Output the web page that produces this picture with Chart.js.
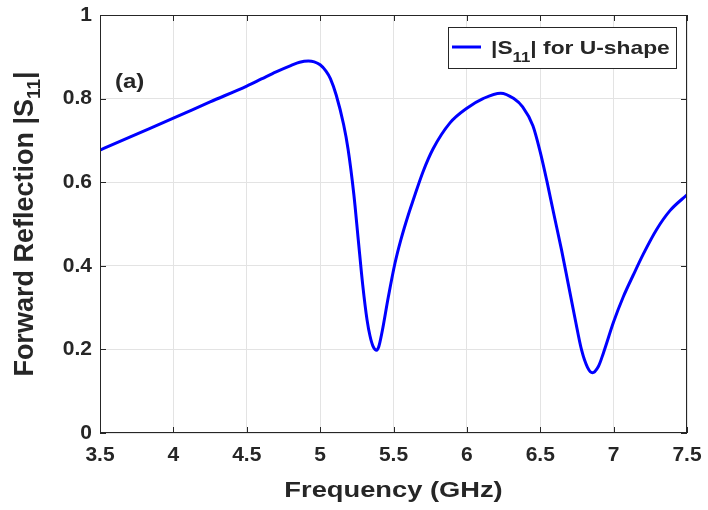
<!DOCTYPE html>
<html>
<head>
<meta charset="utf-8">
<script src="https://cdn.jsdelivr.net/npm/chart.js@4"></script>
<style>
  body { margin: 0; background: #fff; }
  #wrap { width: 708px; height: 510px; }
</style>
</head>
<body>
<div id="wrap"><canvas id="s11"></canvas></div>
<script>
// frequency in GHz and |S11|
const freq = [3.5, 3.75, 4.0, 4.25, 4.5, 4.6, 4.7, 4.8, 4.86, 4.92, 4.96, 5.0, 5.04, 5.07, 5.11, 5.16,
    5.19, 5.23, 5.26, 5.29, 5.32, 5.34, 5.36, 5.385, 5.4, 5.42, 5.465, 5.51, 5.55, 5.6, 5.635, 5.7,
    5.77, 5.885, 6.0, 6.11, 6.23, 6.32, 6.38, 6.45, 6.5, 6.545, 6.59, 6.645, 6.69, 6.737, 6.782,
    6.822, 6.855, 6.896, 6.93, 7.0, 7.066, 7.134, 7.202, 7.293, 7.384, 7.5]
const s11 = [0.677, 0.715, 0.753, 0.792, 0.830, 0.847, 0.864, 0.879, 0.887, 0.890, 0.888, 0.881, 0.866, 0.848, 0.808, 0.738,
    0.680, 0.570, 0.462, 0.355, 0.270, 0.232, 0.208, 0.198, 0.207, 0.238, 0.326, 0.406, 0.462, 0.521, 0.558, 0.624,
    0.680, 0.742, 0.777, 0.800, 0.813, 0.800, 0.780, 0.735, 0.672, 0.603, 0.528, 0.438, 0.358, 0.274, 0.198,
    0.157, 0.144, 0.159, 0.191, 0.266, 0.326, 0.378, 0.428, 0.487, 0.532, 0.570]

const xTicks = [3.5, 4, 4.5, 5, 5.5, 6, 6.5, 7, 7.5]
const yTicks = [0, 0.2, 0.4, 0.6, 0.8, 1]

const ink = '#262626'
const fnt = 'Liberation Sans, Arial, sans-serif'

// text stretched horizontally a bit, the source figure uses a wide font
function txt(ctx, s, x, y, size, sx) {
    ctx.save()
    ctx.font = 'bold ' + size + 'px ' + fnt
    ctx.translate(x, y)
    ctx.scale(sx, 1)
    ctx.fillText(s, 0, 0)
    const w = ctx.measureText(s).width * sx
    ctx.restore()
    return w
}
function txtWidth(ctx, s, size, sx) {
    ctx.save()
    ctx.font = 'bold ' + size + 'px ' + fnt
    const w = ctx.measureText(s).width * sx
    ctx.restore()
    return w
}

const decor = {
    id: 'decor',
    afterDraw(chart) {
        const ctx = chart.ctx
        const a = chart.chartArea
        const xs = chart.scales.x, ys = chart.scales.y
        ctx.save()
        // box
        ctx.strokeStyle = ink
        ctx.lineWidth = 1
        ctx.strokeRect(a.left + 0.5, a.top + 0.5, a.right - a.left - 1, a.bottom - a.top - 1)
        // inward ticks on all sides
        const tl = 6
        ctx.beginPath()
        xTicks.forEach(v => {
            const px = Math.round(xs.getPixelForValue(v)) + 0.5
            ctx.moveTo(px, a.bottom); ctx.lineTo(px, a.bottom - tl)
            ctx.moveTo(px, a.top); ctx.lineTo(px, a.top + tl)
        })
        yTicks.forEach(v => {
            const py = Math.round(ys.getPixelForValue(v)) + 0.5
            ctx.moveTo(a.left, py); ctx.lineTo(a.left + tl, py)
            ctx.moveTo(a.right, py); ctx.lineTo(a.right - tl, py)
        })
        ctx.stroke()

        ctx.fillStyle = ink
        ctx.textBaseline = 'alphabetic'
        ctx.textAlign = 'left'

        // x title
        const xt = 'Frequency (GHz)'
        const xw = txtWidth(ctx, xt, 22, 1.24)
        txt(ctx, xt, (a.left + a.right) / 2 - xw / 2, 497, 22, 1.24)

        // y title with subscript
        const main = 'Forward Reflection |S'
        const total = txtWidth(ctx, main, 27, 1) + txtWidth(ctx, '11', 19, 1) + txtWidth(ctx, '|', 27, 1)
        ctx.save()
        ctx.translate(33, 224 + total / 2)
        ctx.rotate(-Math.PI / 2)
        let p = txt(ctx, main, 0, 0, 27, 1)
        p += txt(ctx, '11', p, 7, 19, 1)
        txt(ctx, '|', p, 0, 27, 1)
        ctx.restore()

        // (a)
        txt(ctx, '(a)', 115, 88, 20, 1.2)

        // legend
        ctx.fillStyle = '#fff'
        ctx.fillRect(448, 27, 228, 41)
        ctx.strokeStyle = ink
        ctx.strokeRect(448.5, 27.5, 228, 41)
        ctx.strokeStyle = '#0000ff'
        ctx.lineWidth = 3
        ctx.beginPath()
        ctx.moveTo(452, 47); ctx.lineTo(481, 47)
        ctx.stroke()
        ctx.fillStyle = ink
        let q = 491
        q += txt(ctx, '|S', q, 54, 19, 1.2)
        q += txt(ctx, '11', q, 62, 14, 1.2)
        txt(ctx, '| for U-shape', q, 54, 19, 1.2)
        ctx.restore()
    }
}

const el = document.getElementById('s11').getContext('2d')

new Chart(el, {
    type: 'scatter',
    data: {
        datasets: [{
            data: freq.map((f, i) => ({ x: f, y: s11[i] })),
            showLine: true,
            borderColor: '#0000ff',
            borderWidth: 3,
            pointRadius: 0,
            cubicInterpolationMode: 'monotone'
        }]
    },
    options: {
        responsive: true,
        maintainAspectRatio: false,
        animation: false,
        layout: { padding: { left: 0, right: 21, top: 15, bottom: 0 } },
        scales: {
            x: {
                type: 'linear',
                min: 3.5,
                max: 7.5,
                afterBuildTicks: s => { s.ticks = xTicks.map(v => ({ value: v })) },
                afterFit: s => { s.height = 77; s.paddingLeft = 0; s.paddingRight = 0 },
                grid: { color: '#e3e3e3', drawTicks: false },
                border: { display: false },
                ticks: {
                    padding: 10,
                    color: ink,
                    maxRotation: 0,
                    callback: v => String(v),
                    font: { family: fnt, size: 21, weight: 'bold' }
                }
            },
            y: {
                min: 0,
                max: 1,
                afterBuildTicks: s => { s.ticks = yTicks.map(v => ({ value: v })) },
                afterFit: s => { s.width = 100; s.paddingTop = 0; s.paddingBottom = 0 },
                grid: { color: '#e3e3e3', drawTicks: false },
                border: { display: false },
                ticks: {
                    padding: 8,
                    color: ink,
                    callback: v => String(v),
                    font: { family: fnt, size: 21, weight: 'bold' }
                }
            }
        },
        plugins: {
            legend: { display: false },
            tooltip: { enabled: false }
        }
    },
    plugins: [decor]
});
</script>
</body>
</html>
